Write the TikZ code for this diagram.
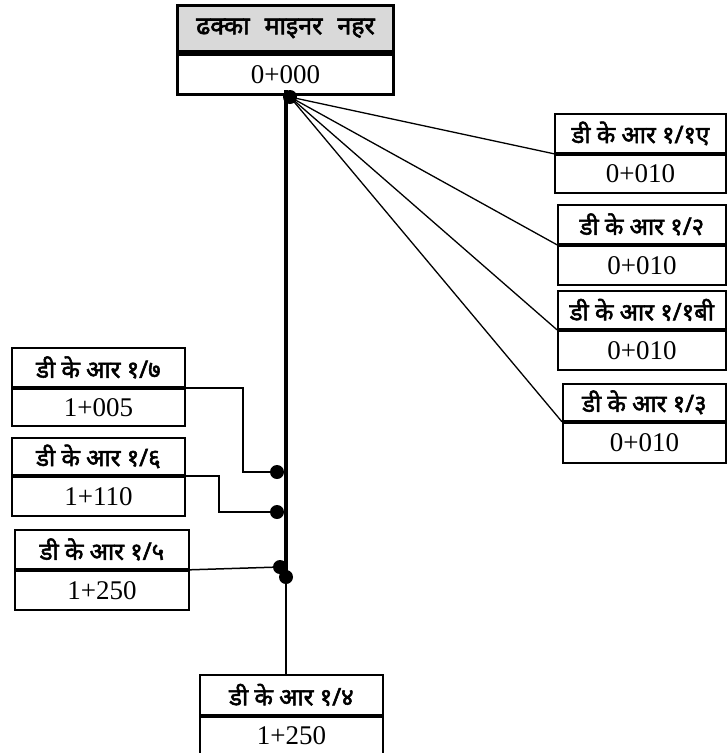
\documentclass[tikz,border=0pt]{standalone}
\usepackage{fontspec}
\setmainfont{Liberation Serif}
\newfontfamily\dev[Script=Devanagari, FakeBold=2.2]{Noto Sans}
\begin{document}
\begin{tikzpicture}[x=1pt,y=-1pt,
  cell/.style={draw, line width=1.8pt, inner sep=0pt, anchor=north west},
  lblcell/.style={cell, font=\dev\fontsize{24}{26}\selectfont},
  numcell/.style={cell, font=\fontsize{27}{30}\selectfont},
  dot/.style={circle, fill=black, inner sep=0pt, minimum size=14pt},
  conn/.style={line width=1.5pt},
  fan/.style={line width=1.3pt}]
\useasboundingbox (0,0) rectangle (727,753);
% title
\node[cell, line width=3pt, fill=black!15, minimum width=216pt, minimum height=46pt,
      font=\dev\fontsize{25}{28}\selectfont] (tt) at (176,4) {ढक्का\hspace{15pt}माइनर\hspace{15pt}नहर};
\node[cell, line width=3pt, minimum width=216pt, minimum height=40pt, font=\fontsize{27}{30}\selectfont] (tb) at (tt.south west) {0+000};
% right boxes
\node[lblcell, minimum width=171pt, minimum height=39pt] (r1t) at (554,113) {डी के आर १/१ए};
\node[numcell, minimum width=171pt, minimum height=38pt] (r1b) at (r1t.south west) {0+010};
\node[lblcell, minimum width=168pt, minimum height=39pt] (r2t) at (557,204) {डी के आर १/२};
\node[numcell, minimum width=168pt, minimum height=39pt] (r2b) at (r2t.south west) {0+010};
\node[lblcell, minimum width=168pt, minimum height=38pt] (r3t) at (557,290) {डी के आर १/१बी};
\node[numcell, minimum width=168pt, minimum height=39pt] (r3b) at (r3t.south west) {0+010};
\node[lblcell, minimum width=163pt, minimum height=37pt] (r4t) at (562,383) {डी के आर १/३};
\node[numcell, minimum width=163pt, minimum height=40pt] (r4b) at (r4t.south west) {0+010};
% left boxes
\node[lblcell, minimum width=173pt, minimum height=39pt] (l7t) at (11,347) {डी के आर १/७};
\node[numcell, minimum width=173pt, minimum height=37pt] (l7b) at (l7t.south west) {1+005};
\node[lblcell, minimum width=173pt, minimum height=37pt] (l6t) at (11,437) {डी के आर १/६};
\node[numcell, minimum width=173pt, minimum height=39pt] (l6b) at (l6t.south west) {1+110};
\node[lblcell, minimum width=174pt, minimum height=39pt] (l5t) at (14,529) {डी के आर १/५};
\node[numcell, minimum width=174pt, minimum height=39pt] (l5b) at (l5t.south west) {1+250};
% bottom box
\node[lblcell, minimum width=183pt, minimum height=40pt] (l4t) at (199,674) {डी के आर १/४};
\node[numcell, minimum width=183pt, minimum height=38pt] (l4b) at (l4t.south west) {1+250};
% main line
\coordinate (mtop) at (286,90);
\coordinate (mbot) at (286,577);
\draw[line width=3.2pt] (mtop) -- (mbot);
\draw[conn] (mbot) -- (l4t.north -| mbot);
% dots
\node[dot] (d0) at (290,97) {};
\node[dot] (d7) at (277,472) {};
\node[dot] (d6) at (277,512) {};
\node[dot] (d5) at (280,567) {};
\node[dot] (d4) at (286,577) {};
% fan
\draw[fan] (d0.center) -- (r1t.south west);
\draw[fan] (d0.center) -- (r2t.south west);
\draw[fan] (d0.center) -- (r3t.south west);
\draw[fan] (d0.center) -- (r4t.south west);
% left connectors
\coordinate (k7) at (243,472);
\coordinate (k6) at (219,512);
\draw[conn] (l7t.south east) -| (k7) -- (d7.center);
\draw[conn] (l6t.south east) -| (k6) -- (d6.center);
\draw[conn] (l5t.south east) -- (d5.center);
\end{tikzpicture}
\end{document}
